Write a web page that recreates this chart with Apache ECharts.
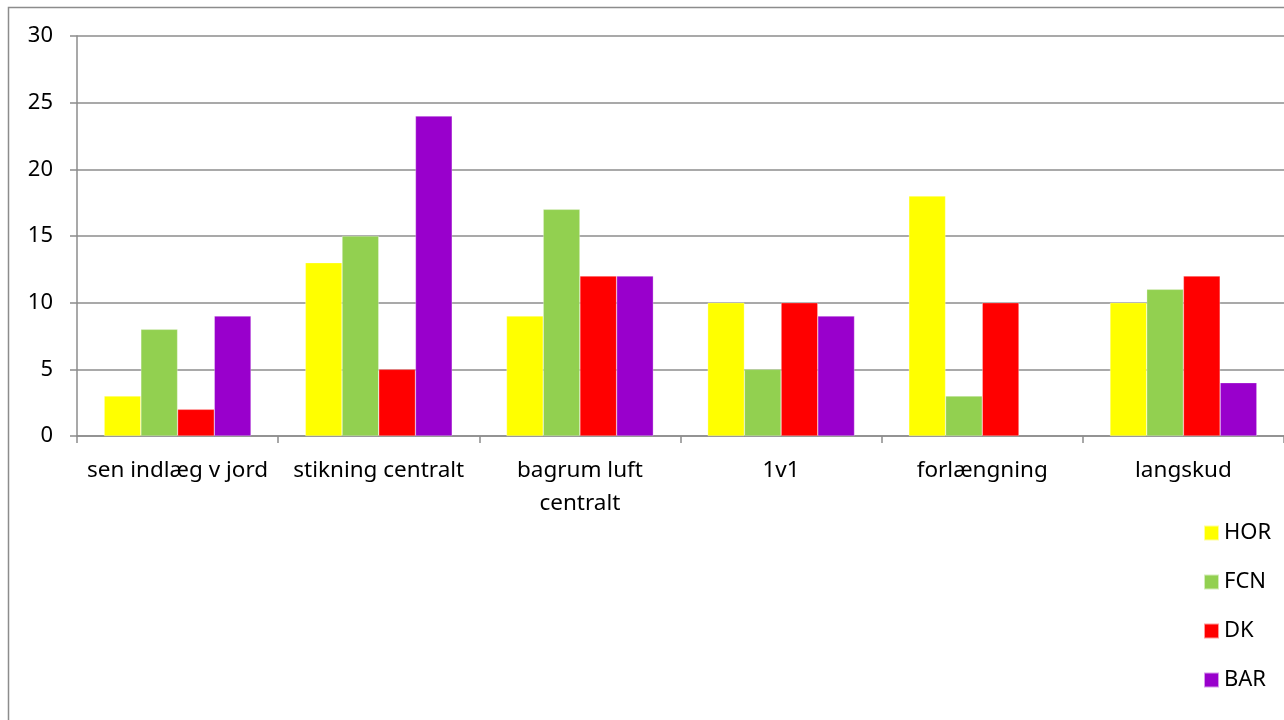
<!DOCTYPE html>
<html>
<head>
<meta charset="utf-8">
<script src="https://cdn.jsdelivr.net/npm/echarts@6/dist/echarts.min.js"></script>
<style>
  html, body { margin: 0; padding: 0; background: #fff; }
  #chart { width: 1284px; height: 720px; }
</style>
</head>
<body>
<div id="chart"></div>
<script>
const categories = ['sen indlæg v jord', 'stikning centralt', 'bagrum luft\ncentralt', '1v1', 'forlængning', 'langskud']
const seriesNames = ['HOR', 'FCN', 'DK', 'BAR']
const horValues = [3, 13, 9, 10, 18, 10]
const fcnValues = [8, 15, 17, 5, 3, 11]
const dkValues = [2, 5, 12, 10, 10, 12]
const barValues = [9, 24, 12, 9, null, 4]
const yTicks = [0, 5, 10, 15, 20, 25, 30]

const COLORS = ['#ffff00', '#92d050', '#ff0000', '#9900cc']
const FONT = 'Noto Sans'
const GRAY = '#8c8c8c'

const chart = echarts.init(document.getElementById('chart'))

const values = [horValues, fcnValues, dkValues, barValues]

const option = {
  backgroundColor: '#fff',
  animation: false,
  textStyle: { fontFamily: FONT },
  graphic: [
    {
      type: 'rect',
      shape: { x: 8.5, y: 7.5, width: 1400, height: 800 },
      style: { fill: 'none', stroke: GRAY, lineWidth: 1.5 },
      silent: true
    }
  ],
  grid: { left: 77, right: -10, top: 36, bottom: 284 },
  legend: {
    orient: 'vertical',
    left: 1198,
    top: 517,
    icon: 'rect',
    itemWidth: 15,
    itemHeight: 15,
    itemGap: 27,
    textStyle: { fontFamily: FONT, fontSize: 22, color: '#000', lineHeight: 20, padding: 0 },
    data: seriesNames
  },
  xAxis: {
    type: 'category',
    data: categories,
    axisLine: { lineStyle: { color: GRAY, width: 1.5 } },
    axisTick: { show: true, length: 7, lineStyle: { color: GRAY, width: 1.5 } },
    axisLabel: { color: '#000', fontSize: 22.5, fontFamily: FONT, margin: 18, lineHeight: 33, interval: 0 }
  },
  yAxis: {
    type: 'value',
    min: 0,
    max: 30,
    interval: 5,
    axisLine: { show: true, lineStyle: { color: GRAY, width: 1.5 } },
    axisTick: { show: true, length: 7, lineStyle: { color: GRAY, width: 1.5 } },
    axisLabel: { color: '#000', fontSize: 22, fontFamily: FONT, margin: 24,
      formatter: (v) => yTicks.includes(v) ? String(v) : '' },
    splitLine: { lineStyle: { color: GRAY, width: 1.5 } }
  },
  series: seriesNames.map((name, i) => ({
    name,
    type: 'bar',
    data: values[i],
    barGap: '0%',
    barCategoryGap: '27%',
    itemStyle: { color: COLORS[i], borderColor: 'rgba(255,255,255,0.6)', borderWidth: 0.5 }
  }))
}

chart.setOption(option)
</script>
</body>
</html>
